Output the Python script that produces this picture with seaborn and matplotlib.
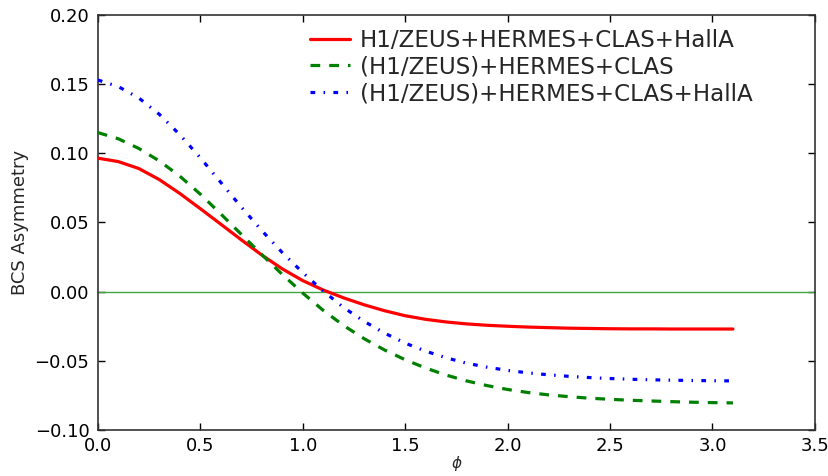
import numpy as np
import pandas as pd
import matplotlib
matplotlib.use("Agg")
import matplotlib.pyplot as plt
import seaborn as sns

# azimuthal angle grid (radians)
phi = [round(0.1 * i, 1) for i in range(32)]

full_fit = [0.0965, 0.0940, 0.0890, 0.0810, 0.0710, 0.0600, 0.0488, 0.0375,
            0.0265, 0.0165, 0.0080, 0.0012, -0.0045, -0.0095, -0.0138, -0.0174,
            -0.0200, -0.0219, -0.0233, -0.0243, -0.0250, -0.0256, -0.0260, -0.0264,
            -0.0266, -0.0268, -0.0269, -0.0269, -0.0270, -0.0270, -0.0270, -0.0270]

no_halla = [0.1150, 0.1105, 0.1035, 0.0945, 0.0835, 0.0705, 0.0562, 0.0415,
            0.0268, 0.0125, -0.0010, -0.0135, -0.0245, -0.0340, -0.0422, -0.0492,
            -0.0552, -0.0603, -0.0645, -0.0679, -0.0707, -0.0729, -0.0746, -0.0759,
            -0.0770, -0.0778, -0.0785, -0.0790, -0.0795, -0.0799, -0.0802, -0.0804]

with_halla = [0.1530, 0.1482, 0.1400, 0.1282, 0.1135, 0.0968, 0.0790, 0.0612,
              0.0442, 0.0283, 0.0138, 0.0005, -0.0115, -0.0215, -0.0300, -0.0372,
              -0.0430, -0.0478, -0.0517, -0.0546, -0.0569, -0.0587, -0.0601, -0.0612,
              -0.0621, -0.0628, -0.0633, -0.0637, -0.0640, -0.0642, -0.0644, -0.0645]

labels = ["H1/ZEUS+HERMES+CLAS+HallA",
          "(H1/ZEUS)+HERMES+CLAS",
          "(H1/ZEUS)+HERMES+CLAS+HallA"]
colors = ["#ff0000", "#008000", "#0000ff"]
dashes = [(None, None), (7.0, 6.5), (3.4, 6.0, 1.1, 6.0)]

sns.set_style("ticks")
plt.rcParams["font.family"] = ["DejaVu Sans"]
plt.rcParams["lines.scale_dashes"] = False

fig = plt.figure(figsize=(8.29, 4.76), dpi=100)
ax = fig.add_axes([0.118, 0.0966, 0.865, 0.872])

ax.axhline(0.0, color="#3fa53f", lw=1.0, zorder=1)

series = [full_fit, no_halla, with_halla]
for vals, lab, col, dsh in zip(series, labels, colors, dashes):
    df = pd.DataFrame({"phi": phi, "asym": vals})
    line = sns.lineplot(data=df, x="phi", y="asym", ax=ax, color=col,
                        lw=2.3, label=lab, zorder=3).lines[-1]
    if dsh[0] is not None:
        line.set_dashes(dsh)

ax.set_xlim(0.0, 3.5)
ax.set_ylim(-0.10, 0.20)
xt = np.arange(0.0, 3.51, 0.5)
yt = np.arange(-0.10, 0.201, 0.05)
ax.set_xticks(xt)
ax.set_yticks(yt)
ax.set_xticklabels([f"{t:.1f}" for t in xt])
ax.set_yticklabels([f"{t:.2f}".replace("-", "\u2212") for t in yt])

ax.tick_params(direction="in", length=5, width=1, top=True, right=True,
               labelsize=13, colors="black", pad=6)
ax.tick_params(axis="x", pad=5)
for s in ax.spines.values():
    s.set_color("#333333")
    s.set_linewidth(1.2)

ax.set_xlabel(r"$\phi$", fontsize=11, labelpad=-1)
ax.set_ylabel("BCS Asymmetry", fontsize=13, labelpad=4)

leg = ax.legend(loc="upper left", frameon=False, fontsize=16.6,
                handlelength=1.75, handletextpad=0.42, labelspacing=0.17,
                borderpad=0.0, borderaxespad=0.0,
                bbox_to_anchor=(0.2957, 0.967))
for h, col, dsh in zip(leg.get_lines(), colors, dashes):
    h.set_linewidth(2.3)
    if dsh[0] is not None:
        h.set_dashes(dsh)

fig.savefig("out.png", dpi=100)
